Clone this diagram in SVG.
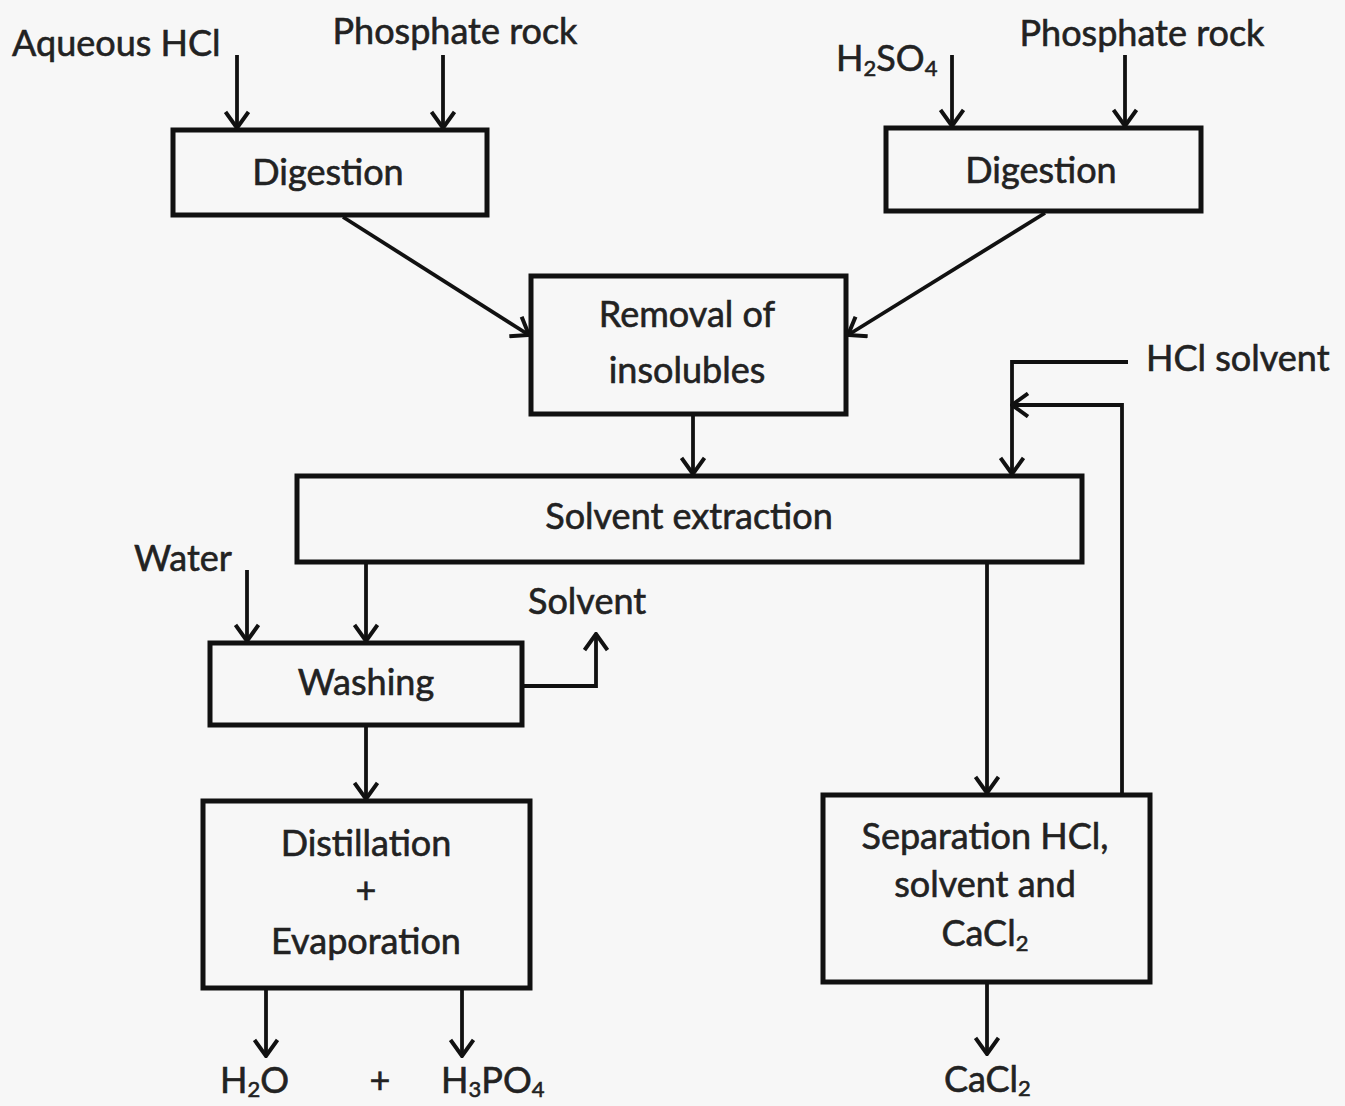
<svg xmlns="http://www.w3.org/2000/svg" width="1345" height="1106" viewBox="0 0 1345 1106">
<defs>
<marker id="al" viewBox="0 0 26 26" refX="24" refY="13" markerWidth="26" markerHeight="26" markerUnits="userSpaceOnUse" orient="auto">
<path d="M8,1.5 L24,13 L8,24.5" fill="none" stroke="#111" stroke-width="4"/>
</marker>
</defs>
<style>
.box{fill:none;stroke:#111;stroke-width:5}
.c{fill:none;stroke:#111;stroke-width:3.8}
text{font-family:Lato,"Liberation Sans",sans-serif;font-size:36px;fill:#222;stroke:#222;stroke-width:0.6}
.m{text-anchor:middle}
.s{font-size:22px}
</style>
<rect width="1345" height="1106" fill="#f7f7f7"/>
<g id="connectors">
<line class="c" x1="237" y1="55" x2="237" y2="128" marker-end="url(#al)"/>
<line class="c" x1="443" y1="55" x2="443" y2="128" marker-end="url(#al)"/>
<line class="c" x1="952" y1="55" x2="952" y2="126" marker-end="url(#al)"/>
<line class="c" x1="1125" y1="55" x2="1125" y2="126" marker-end="url(#al)"/>
<line class="c" x1="343" y1="217" x2="529" y2="335" marker-end="url(#al)"/>
<line class="c" x1="1045" y1="213" x2="848" y2="335" marker-end="url(#al)"/>
<line class="c" x1="693" y1="416" x2="693" y2="474" marker-end="url(#al)"/>
<polyline class="c" points="1128,362 1012,362 1012,474" marker-end="url(#al)"/>
<polyline class="c" points="1122,793 1122,405 1012,405" marker-end="url(#al)"/>
<line class="c" x1="987" y1="564" x2="987" y2="793" marker-end="url(#al)"/>
<line class="c" x1="366" y1="564" x2="366" y2="641" marker-end="url(#al)"/>
<line class="c" x1="247" y1="570" x2="247" y2="641" marker-end="url(#al)"/>
<polyline class="c" points="524,686 596,686 596,634" marker-end="url(#al)"/>
<line class="c" x1="366" y1="727" x2="366" y2="799" marker-end="url(#al)"/>
<line class="c" x1="266" y1="990" x2="266" y2="1056" marker-end="url(#al)"/>
<line class="c" x1="462" y1="990" x2="462" y2="1056" marker-end="url(#al)"/>
<line class="c" x1="987" y1="984" x2="987" y2="1054" marker-end="url(#al)"/>
</g>
<g id="inputs">
<text x="12" y="56">Aqueous HCl</text>
<text x="455" y="44" class="m">Phosphate rock</text>
<text x="836" y="71">H<tspan class="s" dy="5">2</tspan><tspan dy="-5">SO</tspan><tspan class="s" dy="5">4</tspan></text>
<text x="1142" y="46" class="m">Phosphate rock</text>
<text x="1146" y="371">HCl solvent</text>
<text x="134" y="571">Water</text>
<text x="528" y="614">Solvent</text>
</g>
<g id="digestion-left">
<rect class="box" x="173" y="130" width="314" height="85"/>
<text x="328" y="185" class="m">Digestion</text>
</g>
<g id="digestion-right">
<rect class="box" x="886" y="128" width="315" height="83"/>
<text x="1041" y="183" class="m">Digestion</text>
</g>
<g id="removal">
<rect class="box" x="531" y="276" width="315" height="138"/>
<text x="687" y="327" class="m">Removal of</text>
<text x="687" y="383" class="m">insolubles</text>
</g>
<g id="solvent-extraction">
<rect class="box" x="297" y="476" width="785" height="86"/>
<text x="689" y="529" class="m">Solvent extraction</text>
</g>
<g id="washing">
<rect class="box" x="210" y="643" width="312" height="82"/>
<text x="366" y="695" class="m">Washing</text>
</g>
<g id="distillation">
<rect class="box" x="203" y="801" width="327" height="187"/>
<text x="366" y="856" class="m">Distillation</text>
<text x="366" y="903" class="m">+</text>
<text x="366" y="954" class="m">Evaporation</text>
</g>
<g id="separation">
<rect class="box" x="823" y="795" width="327" height="187"/>
<text x="985" y="849" class="m">Separation HCl,</text>
<text x="985" y="897" class="m">solvent and</text>
<text x="985" y="946" class="m">CaCl<tspan class="s" dy="5">2</tspan></text>
</g>
<g id="outputs">
<text x="220" y="1093">H<tspan class="s" dy="4">2</tspan><tspan dy="-4">O</tspan></text>
<text x="380" y="1093" class="m">+</text>
<text x="441" y="1093">H<tspan class="s" dy="4">3</tspan><tspan dy="-4">PO</tspan><tspan class="s" dy="4">4</tspan></text>
<text x="944" y="1092">CaCl<tspan class="s" dy="4">2</tspan></text>
</g>
</svg>
